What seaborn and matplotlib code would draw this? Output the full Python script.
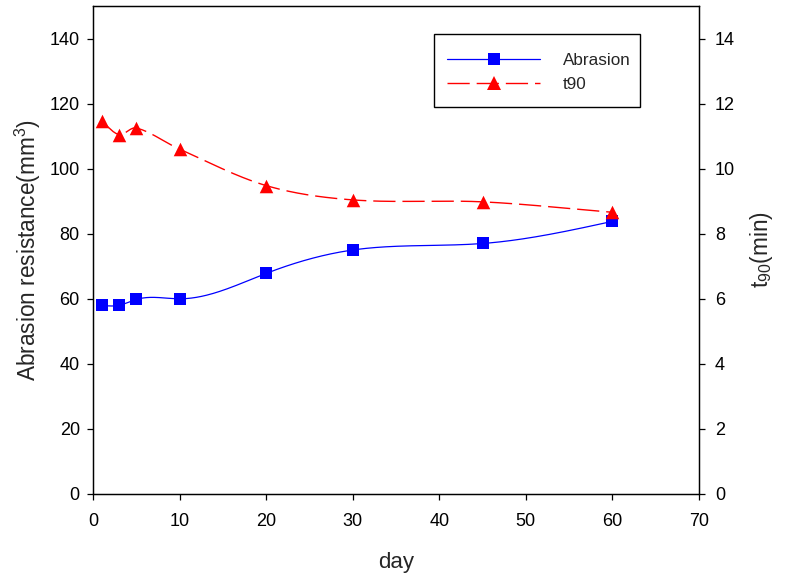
import numpy as np
import pandas as pd
import matplotlib
matplotlib.use("Agg")
import matplotlib.pyplot as plt
from matplotlib.lines import Line2D
from matplotlib.patches import Rectangle
import seaborn as sns

days = [1, 3, 5, 10, 20, 30, 45, 60]
abrasion = [58, 58, 59.8, 60, 67.8, 75, 77, 83.8]
t90 = [11.45, 11.05, 11.25, 10.6, 9.48, 9.04, 8.98, 8.66]

x_ticks = [0, 10, 20, 30, 40, 50, 60, 70]
yl_ticks = [0, 20, 40, 60, 80, 100, 120, 140]
yr_ticks = [0, 2, 4, 6, 8, 10, 12, 14]


def natural_spline(x, y, n=400):
    x = np.asarray(x, float)
    y = np.asarray(y, float)
    k = len(x)
    h = np.diff(x)
    A = np.zeros((k, k))
    b = np.zeros(k)
    A[0, 0] = 1
    A[-1, -1] = 1
    for i in range(1, k - 1):
        A[i, i - 1] = h[i - 1]
        A[i, i] = 2 * (h[i - 1] + h[i])
        A[i, i + 1] = h[i]
        b[i] = 6 * ((y[i + 1] - y[i]) / h[i] - (y[i] - y[i - 1]) / h[i - 1])
    M = np.linalg.solve(A, b)
    xs = np.linspace(x[0], x[-1], n)
    idx = np.clip(np.searchsorted(x, xs) - 1, 0, k - 2)
    x0, x1 = x[idx], x[idx + 1]
    hh = x1 - x0
    t0 = x1 - xs
    t1 = xs - x0
    ys = (M[idx] * t0 ** 3 / (6 * hh) + M[idx + 1] * t1 ** 3 / (6 * hh)
          + (y[idx] / hh - M[idx] * hh / 6) * t0
          + (y[idx + 1] / hh - M[idx + 1] * hh / 6) * t1)
    return xs, ys


def hermite_spline(x, y, n=400):
    x = np.asarray(x, float)
    y = np.asarray(y, float)
    k = len(x)
    m = np.zeros(k)
    m[0] = (y[1] - y[0]) / (x[1] - x[0])
    m[-1] = (y[-1] - y[-2]) / (x[-1] - x[-2])
    for i in range(1, k - 1):
        m[i] = (y[i + 1] - y[i - 1]) / (x[i + 1] - x[i - 1])
    xs = np.linspace(x[0], x[-1], n)
    idx = np.clip(np.searchsorted(x, xs) - 1, 0, k - 2)
    h = x[idx + 1] - x[idx]
    t = (xs - x[idx]) / h
    h00 = 2 * t ** 3 - 3 * t ** 2 + 1
    h10 = t ** 3 - 2 * t ** 2 + t
    h01 = -2 * t ** 3 + 3 * t ** 2
    h11 = t ** 3 - t ** 2
    ys = h00 * y[idx] + h10 * h * m[idx] + h01 * y[idx + 1] + h11 * h * m[idx + 1]
    return xs, ys


sns.set_style("ticks")
plt.rcParams["font.family"] = ["Liberation Sans", "DejaVu Sans"]
plt.rcParams["mathtext.fontset"] = "custom"
plt.rcParams["mathtext.rm"] = "Liberation Sans"
plt.rcParams["mathtext.it"] = "Liberation Sans"

W, H = 785, 583
fig = plt.figure(figsize=(7.85, 5.83), dpi=100)
ax = fig.add_axes([93 / W, 1 - 494 / H, (699 - 93) / W, (494 - 6) / H])
ax2 = ax.twinx()

blue = "#0000FF"
red = "#FF0000"

xs, ys = natural_spline(days, abrasion)
sns.lineplot(x=xs, y=ys, ax=ax, color=blue, lw=0.9, estimator=None, sort=False)
sns.scatterplot(x=days, y=abrasion, ax=ax, color=blue, marker="s", s=72,
                edgecolor=blue, linewidth=0, zorder=5)

xs2, ys2 = hermite_spline(days, t90)
sns.lineplot(x=xs2, y=ys2, ax=ax2, color=red, lw=1.0, estimator=None, sort=False,
             linestyle=(0, (16, 5)))
sns.scatterplot(x=days, y=t90, ax=ax2, color=red, marker="^", s=95,
                edgecolor=red, linewidth=0, zorder=5)

ax.set_xlim(0, 70)
ax.set_ylim(0, 150)
ax2.set_ylim(0, 15)
ax.set_xticks(x_ticks)
ax.set_yticks(yl_ticks)
ax2.set_yticks(yr_ticks)

for a in (ax, ax2):
    for s in a.spines.values():
        s.set_visible(True)
        s.set_linewidth(0.9)
        s.set_color("black")
    a.tick_params(direction="out", length=4.5, width=0.9, labelsize=13,
                  colors="black")
ax.tick_params(axis="x", pad=9)
ax.tick_params(axis="y", pad=5)
ax2.tick_params(axis="y", pad=7)

ax.set_xlabel("day", fontsize=16, labelpad=16)
ax.set_ylabel("Abrasion resistance(mm$^3$)", fontsize=16.3, labelpad=5)
ax2.set_ylabel("t$_{90}$(min)", fontsize=16.3, labelpad=9)

# legend frame drawn as a plain rectangle in figure pixels
fig.patches.append(Rectangle((434 / W, 1 - 107 / H), (640 - 434) / W, (107 - 34) / H,
                             transform=fig.transFigure, fill=False,
                             edgecolor="black", linewidth=1.0, zorder=10))

handles = [
    Line2D([], [], color=blue, lw=0.9, marker="s", markersize=8.5, markeredgewidth=0),
    Line2D([], [], color=red, lw=1.0, linestyle=(0, (16, 5)), marker="^", markersize=9.5,
           markeredgewidth=0),
]
leg = fig.legend(handles, ["Abrasion", "t90"], loc="upper left",
                 bbox_to_anchor=(447 / W, 1 - 53 / H),
                 fontsize=12.3, frameon=False, handlelength=5.45,
                 handletextpad=1.35, borderpad=0, labelspacing=0.52,
                 borderaxespad=0)

fig.savefig("out.png", dpi=100)
